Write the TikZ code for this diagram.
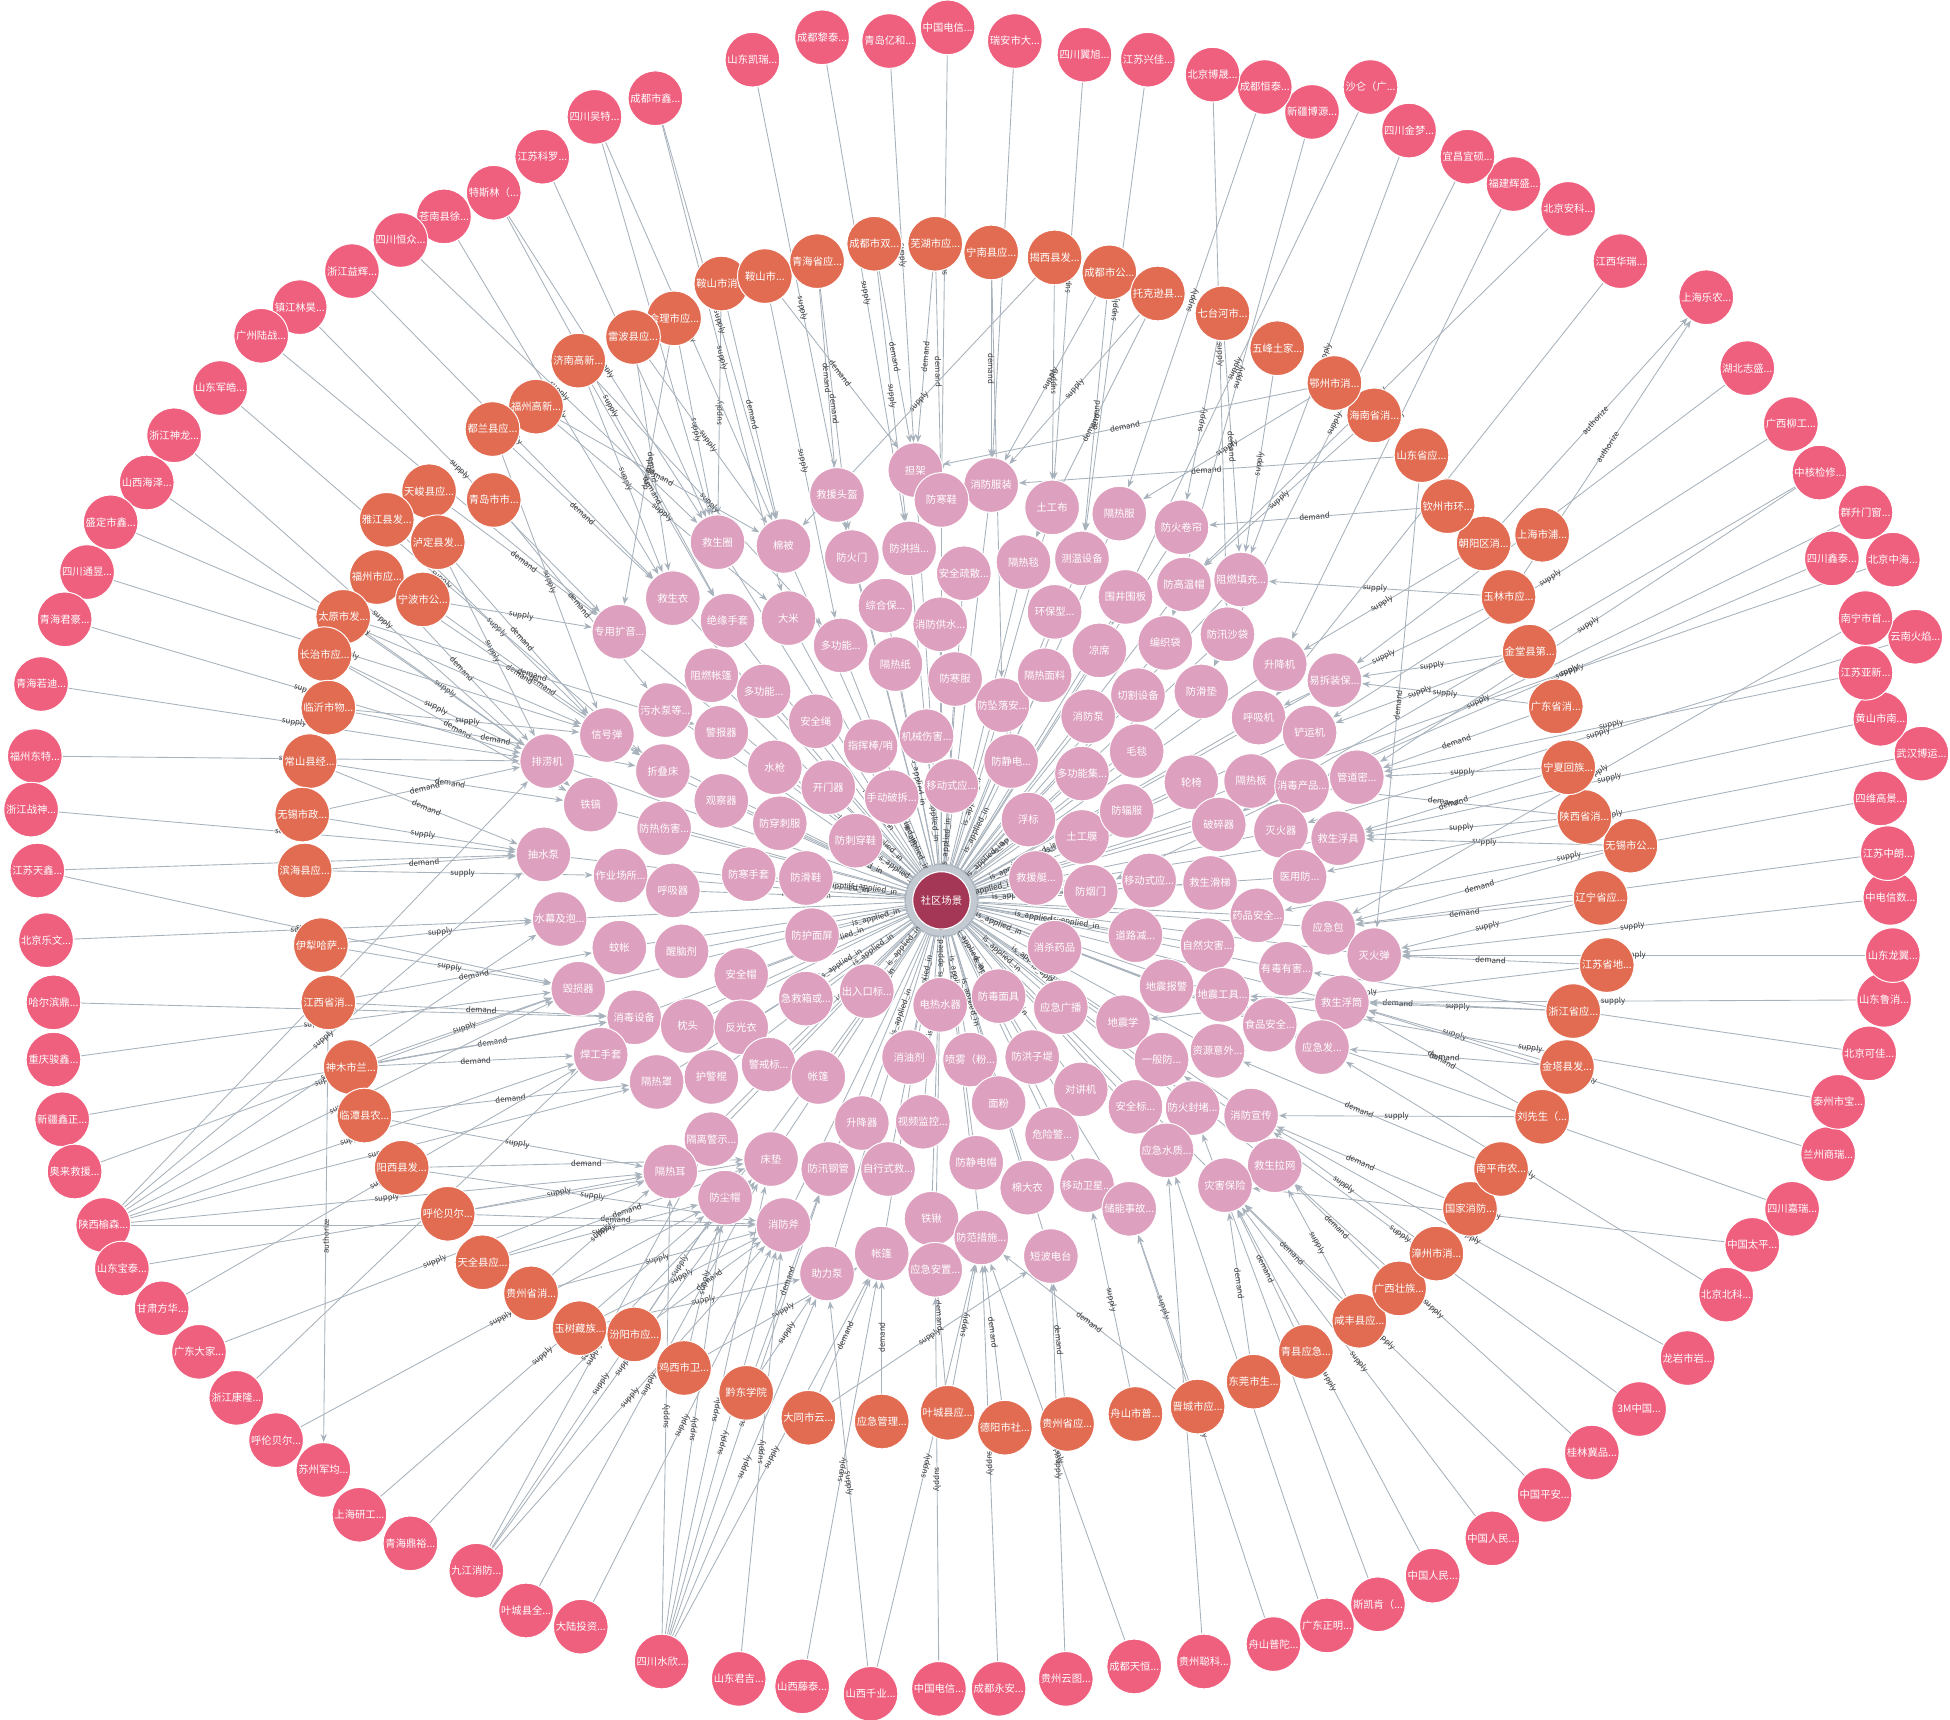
\documentclass[tikz,border=0pt]{standalone}
\usepackage{fontspec}
\setmainfont{Noto Sans CJK SC}
\usetikzlibrary{arrows.meta,backgrounds}
\newcommand\ellp{...}
\definecolor{outerc}{RGB}{239,95,126}
\definecolor{orgc}{RGB}{225,108,82}
\definecolor{prodc}{RGB}{221,160,190}
\definecolor{centc}{RGB}{164,54,86}
\definecolor{edgec}{RGB}{168,178,188}
\definecolor{lblc}{RGB}{55,55,55}
\begin{document}
\begin{tikzpicture}[x=1pt,y=-1pt,
 base/.style={circle,minimum size=44pt,inner sep=0pt,draw=white,line width=0.8pt,text=white,font=\fontsize{8.3}{8.3}\selectfont},
 outern/.style={base,fill=outerc},
 orgn/.style={base,fill=orgc},
 prodn/.style={base,fill=prodc},
 centn/.style={base,fill=centc,minimum size=46pt},
 edge/.style={draw=edgec,line width=0.7pt,-{Stealth[length=6.5pt,width=5pt]}},
 lbl/.style={font=\fontsize{6.3}{6.3}\selectfont,text=lblc,sloped,inner sep=0.4pt,midway}
]
\useasboundingbox (0,0) rectangle (1568,1383);

% centre
\draw[edgec!70,line width=5pt] (757,724) circle (26);
\node[centn] (c) at (757,724) {社区场景};

% products
\foreach \id/\x/\y/\t in {
p1/736/378/担架, p2/797/390/消防服装, p3/673/398/救援头盔, p4/757/402/防寒鞋, p5/846/408/土工布,
p6/900/413/隔热服, p7/950/424/防火卷帘, p8/577/436/救生圈, p9/630/439/棉被, p10/685/448/防火门,
p11/731/441/防洪挡\ellp, p12/775/461/安全疏散\ellp, p13/823/452/隔热毯, p14/870/449/测温设备, p15/952/470/防高温帽,
p16/998/466/阻燃填充\ellp, p17/541/481/救生衣, p18/585/499/绝缘手套, p19/634/497/大米, p20/712/487/综合保\ellp,
p21/756/502/消防供水\ellp, p22/848/492/环保型\ellp, p23/905/480/围井围板, p24/937/517/编织袋, p25/987/510/防汛沙袋,
p26/498/508/专用扩音\ellp, p27/676/519/多功能\ellp, p28/720/534/隔热纸, p29/884/523/凉席, p30/1029/534/升降机,
p31/1073/547/易拆装保\ellp, p32/572/543/阻燃帐篷, p33/614/556/多功能\ellp, p34/768/546/防寒服, p35/806/567/防坠落安\ellp,
p36/840/543/隔热面料, p37/915/559/切割设备, p38/966/556/防滑垫, p39/535/571/污水泵等\ellp, p40/580/589/警报器,
p41/656/580/安全绳, p42/745/592/机械伤害\ellp, p43/875/576/消防泵, p44/1012/577/呼吸机, p45/1053/589/铲运机,
p46/488/591/信号弹, p47/700/600/{指挥棒/哨}, p48/440/612/排涝机, p49/533/620/折叠床, p50/623/617/水枪,
p51/813/612/防静电\ellp, p52/914/604/毛毯, p53/870/622/多功能集\ellp, p54/958/629/轮椅, p55/1006/628/隔热板,
p56/1047/632/消毒产品\ellp, p57/1091/625/管道密\ellp, p58/666/633/开门器, p59/765/632/移动式应\ellp, p60/717/641/手动破拆\ellp,
p61/475/647/铁镐, p62/580/644/观察器, p63/627/662/防穿刺服, p64/534/666/防热伤害\ellp, p65/688/676/防刺穿鞋,
p66/827/659/浮标, p67/870/673/土工膜, p68/906/652/防辐服, p69/980/663/破碎器, p70/1030/668/灭火器,
p71/1076/674/救生浮具, p72/437/687/抽水泵, p73/499/704/作业场所\ellp, p74/602/703/防寒手套, p75/648/706/防滑鞋,
p76/541/716/呼吸器, p77/833/706/救援艇\ellp, p78/877/717/防烟门, p79/924/708/移动式应\ellp, p80/973/710/救生滑梯,
p81/1045/705/医用防\ellp, p82/450/739/水幕及泡\ellp, p83/498/762/蚊帐, p84/548/765/醒脑剂, p85/653/752/防护面屏,
p86/848/762/消杀药品, p87/913/752/道路减\ellp, p88/971/760/自然灾害\ellp, p89/1011/736/药品安全\ellp, p90/1068/746/应急包,
p91/1105/768/灭火弹, p92/465/795/毁损器, p93/596/784/安全帽, p94/648/803/急救箱或\ellp, p95/697/797/出入口标\ellp,
p96/756/808/电热水器, p97/803/801/防毒面具, p98/853/810/应急广播, p99/938/793/地震报警, p100/1034/779/有毒有害\ellp,
p101/983/800/地震工具\ellp, p102/510/818/消毒设备, p103/553/825/枕头, p104/596/826/反光衣, p105/903/822/地震学,
p106/1021/824/食品安全\ellp, p107/1079/806/救生浮筒, p108/483/848/焊工手套, p109/618/856/警戒标\ellp, p110/658/866/帐篷,
p111/572/866/护警棍, p112/528/870/隔热罩, p113/731/850/消油剂, p114/780/852/喷雾（粉\ellp, p115/830/850/防洪子堤,
p116/934/852/一般防\ellp, p117/979/845/资源意外\ellp, p118/1063/842/应急发\ellp, p119/869/876/对讲机, p120/803/887/面粉,
p121/913/890/安全标\ellp, p122/959/891/防火封堵\ellp, p123/1006/897/消防宣传, p124/693/903/升降器, p125/742/902/视频监控\ellp,
p126/846/912/危险警\ellp, p127/572/916/隔离警示\ellp, p128/938/925/应急水质\ellp, p129/620/932/床垫, p130/1025/937/救生拉网,
p131/666/940/防汛钢管, p132/714/940/自行式救\ellp, p133/785/935/防静电帽, p134/539/942/隔热耳, p135/985/953/灾害保险,
p136/826/955/棉大衣, p137/874/953/移动卫星\ellp, p138/583/963/防尘帽, p139/908/972/储能事故\ellp, p140/630/985/消防斧,
p141/749/980/铁锹, p142/789/995/防范措施\ellp, p143/845/1010/短波电台, p144/709/1008/帐篷, p145/752/1021/应急安置\ellp,
p146/665/1024/助力泵}
 \node[prodn] (\id) at (\x,\y) {\t};

% organisations
\foreach \id/\x/\y/\t in {
o1/580/228/鞍山市消\ellp, o2/615/222/鞍山市\ellp, o3/657/210/青海省应\ellp, o4/703/196/成都市双\ellp, o5/752/196/芜湖市应\ellp,
o6/797/203/宁南县应\ellp, o7/848/207/揭西县发\ellp, o8/892/219/成都市公\ellp, o9/931/236/托克逊县\ellp, o10/983/252/七台河市\ellp,
o11/1027/280/五峰土家\ellp, o12/542/256/会理市应\ellp, o13/509/271/雷波县应\ellp, o14/465/290/济南高新\ellp, o15/431/327/福州高新\ellp,
o16/396/345/都兰县应\ellp, o17/345/395/天峻县应\ellp, o18/397/402/青岛市市\ellp, o19/311/418/雅江县发\ellp, o20/352/436/泸定县发\ellp,
o21/303/464/福州市应\ellp, o22/340/482/宁波市公\ellp, o23/276/496/太原市发\ellp, o24/261/526/长治市应\ellp, o25/264/569/临沂市物\ellp,
o26/249/612/常山县经\ellp, o27/243/655/无锡市政\ellp, o28/245/700/滨海县应\ellp, o29/258/760/伊犁哈萨\ellp, o30/264/806/江西省消\ellp,
o31/282/858/神木市兰\ellp, o32/293/897/临潭县农\ellp, o33/323/939/阳西县发\ellp, o34/360/976/呼伦贝尔\ellp, o35/388/1015/天全县应\ellp,
o36/427/1040/贵州省消\ellp, o37/466/1068/玉树藏族\ellp, o38/510/1073/汾阳市应\ellp, o39/550/1100/鸡西市卫\ellp, o40/600/1120/黔东学院,
o41/650/1140/大同市云\ellp, o42/709/1143/应急管理\ellp, o43/762/1136/叶城县应\ellp, o44/808/1148/德阳市社\ellp, o45/858/1145/贵州省应\ellp,
o46/913/1137/舟山市普\ellp, o47/963/1131/晋城市应\ellp, o48/1008/1111/东莞市生\ellp, o49/1050/1087/青县应急\ellp, o50/1093/1062/咸丰县应\ellp,
o51/1125/1036/广西壮族\ellp, o52/1155/1008/漳州市消\ellp, o53/1182/972/国家消防\ellp, o54/1207/940/南平市农\ellp, o55/1240/898/刘先生（\ellp,
o56/1260/858/金塔县发\ellp, o57/1265/813/浙江省应\ellp, o58/1292/776/江苏省地\ellp, o59/1287/722/辽宁省应\ellp, o60/1311/680/无锡市公\ellp,
o61/1274/657/陕西省消\ellp, o62/1261/617/宁夏回族\ellp, o63/1251/568/广东省消\ellp, o64/1230/524/金堂县第\ellp, o65/1213/480/玉林市应\ellp,
o66/1240/430/上海市浦\ellp, o67/1193/437/朝阳区消\ellp, o68/1164/407/钦州市环\ellp, o69/1143/366/山东省应\ellp, o70/1105/334/海南省消\ellp,
o71/1073/308/鄂州市消\ellp}
 \node[orgn] (\id) at (\x,\y) {\t};

% outer companies
\foreach \id/\x/\y/\t in {
r1/605/48/山东凯瑞\ellp, r2/527/79/成都市鑫\ellp, r3/478/94/四川吴特\ellp, r4/436/126/江苏科罗\ellp, r5/397/155/特斯林（\ellp,
r6/357/174/苍南县徐\ellp, r7/322/193/四川恒众\ellp, r8/283/218/浙江益辉\ellp, r9/241/247/镇江林昊\ellp, r10/210/270/广州陆战\ellp,
r11/177/312/山东军皓\ellp, r12/140/350/浙江神龙\ellp, r13/118/388/山西海泽\ellp, r14/89/420/盛定市鑫\ellp, r15/70/460/四川通昱\ellp,
r16/52/498/青海君豪\ellp, r17/33/550/青海若迪\ellp, r18/28/608/福州东特\ellp, r19/25/651/浙江战神\ellp, r20/30/700/江苏天鑫\ellp,
r21/37/756/北京乐文\ellp, r22/43/806/哈尔滨鼎\ellp, r23/43/852/重庆骏鑫\ellp, r24/50/900/新疆鑫正\ellp, r25/60/942/奥来救援\ellp,
r26/83/985/陕西榆森\ellp, r27/98/1020/山东宝泰\ellp, r28/130/1052/甘肃方华\ellp, r29/160/1087/广东大家\ellp, r30/190/1124/浙江康隆\ellp,
r31/222/1158/呼伦贝尔\ellp, r32/260/1182/苏州军均\ellp, r33/289/1218/上海研工\ellp, r34/330/1241/青海鼎裕\ellp, r35/383/1263/九江消防\ellp,
r36/423/1295/叶城县全\ellp, r37/467/1308/大陆投资\ellp, r38/532/1336/四川水欣\ellp, r39/594/1350/山东君吉\ellp, r40/645/1356/山西藤泰\ellp,
r41/700/1362/山西千业\ellp, r42/755/1358/中国电信\ellp, r43/803/1358/成都永安\ellp, r44/857/1350/贵州云图\ellp, r45/912/1340/成都天恒\ellp,
r46/968/1336/贵州聪科\ellp, r47/1024/1322/舟山普陀\ellp, r48/1067/1307/广东正明\ellp, r49/1108/1290/斯凯肯（\ellp, r50/1152/1267/中国人民\ellp,
r51/1200/1237/中国人民\ellp, r52/1242/1202/中国平安\ellp, r53/1280/1168/桂林冀品\ellp, r54/1318/1133/3M中国\ellp, r55/1357/1092/龙岩市岩\ellp,
r56/1388/1041/北京北科\ellp, r57/1409/1001/中国太平\ellp, r58/1441/972/四川嘉瑞\ellp, r59/1470/928/兰州商瑞\ellp, r60/1478/886/泰州市宝\ellp,
r61/1503/847/北京可佳\ellp, r62/1515/804/山东鲁消\ellp, r63/1522/768/山东龙翼\ellp, r64/1520/722/中电信数\ellp, r65/1518/686/江苏中朗\ellp,
r66/1512/642/四维高景\ellp, r67/1545/606/武汉博运\ellp, r68/1512/578/黄山市南\ellp, r69/1500/541/江苏亚新\ellp, r70/1540/512/云南火焰\ellp,
r71/1500/497/南宁市首\ellp, r72/1522/450/北京中海\ellp, r73/1473/449/四川鑫泰\ellp, r74/1500/412/群升门窗\ellp, r75/1463/380/中核检修\ellp,
r76/1440/341/广西柳工\ellp, r77/1405/296/湖北志盛\ellp, r78/1372/239/上海乐农\ellp, r79/1303/210/江西华瑞\ellp, r80/1261/168/北京安科\ellp,
r81/1217/148/福建辉盛\ellp, r82/1180/126/宜昌宜硕\ellp, r83/1133/105/四川金梦\ellp, r84/1102/70/沙仑（广\ellp, r85/1055/90/新疆博源\ellp,
r86/1017/70/成都恒泰\ellp, r87/975/60/北京博晟\ellp, r88/923/48/江苏兴佳\ellp, r89/872/44/四川翼旭\ellp, r90/816/33/瑞安市大\ellp,
r91/762/22/中国电信\ellp, r92/715/33/青岛亿和\ellp, r93/661/30/成都黎泰\ellp}
 \node[outern] (\id) at (\x,\y) {\t};

\begin{pgfonlayer}{background}
% products -> scene
\foreach \a in {1,...,146} \draw[edge] (p\a) -- (c);
\foreach \a in {47,59,60,58,42,51,53,66,67,65,63,75,74,77,78,79,85,86,87,94,95,96,97,98,99,105,113,114,115,116,110,109,93,104,68,54,50,41,76,84,88,80,119,120,124,125,35,34,28}
 \path (p\a) -- (c) node[lbl]{is\_applied\_in};

% organisations -> products
\foreach \a/\b/\l in {
o1/p9/demand, o1/p8/supply, o2/p27/supply, o2/p1/demand, o3/p3/demand, o3/p10/demand,
o4/p1/demand, o4/p11/supply, o5/p1/demand, o5/p4/demand, o6/p2/demand, o6/p35/supply,
o7/p9/supply, o7/p5/supply, o8/p14/demand, o8/p2/supply, o9/p2/supply, o9/p13/demand,
o10/p7/supply, o10/p16/demand, o11/p16/supply, o12/p8/supply, o12/p26/demand,
o13/p17/demand, o13/p9/supply, o14/p27/supply, o14/p18/demand, o14/p17/supply,
o15/p9/demand, o15/p19/supply, o16/p17/demand, o16/p46/supply, o17/p26/demand,
o18/p39/demand, o19/p46/supply, o20/p46/demand, o20/p48/supply, o21/p49/demand, o21/p48/demand,
o22/p26/supply, o22/p49/demand, o23/p48/supply, o23/p40/demand, o24/p48/supply, o24/p61/demand,
o25/p46/supply, o25/p49/demand, o26/p72/demand, o26/p61/demand, o27/p72/supply, o27/p48/demand,
o28/p72/demand, o28/p73/supply, o29/p82/supply, o29/p92/supply, o30/p102/demand, o30/p83/demand,
o31/p92/supply, o31/p102/demand, o31/p108/demand, o32/p112/demand, o32/p134/supply,
o33/p129/demand, o33/p140/supply, o34/p134/supply, o34/p140/demand, o35/p138/supply, o35/p129/demand,
o36/p140/supply, o36/p134/supply, o37/p140/supply, o37/p146/supply, o38/p138/supply, o38/p140/demand,
o39/p144/supply, o39/p138/supply, o40/p146/supply, o40/p131/demand, o41/p143/supply, o41/p144/demand,
o42/p144/demand, o43/p142/supply, o43/p141/demand, o44/p142/demand, o45/p143/demand, o46/p137/supply,
o47/p142/demand, o47/p139/supply, o48/p135/demand, o49/p135/demand, o50/p135/demand, o50/p130/supply,
o51/p130/demand, o52/p123/supply, o53/p123/demand, o54/p117/demand, o55/p107/demand, o55/p123/supply,
o56/p107/supply, o56/p118/demand, o57/p107/supply, o57/p101/demand, o58/p91/demand, o58/p105/supply,
o59/p90/demand, o59/p91/supply, o60/p71/supply, o60/p90/demand, o61/p56/demand, o61/p71/supply,
o62/p57/supply, o62/p71/demand, o63/p57/demand, o63/p31/supply, o64/p31/supply, o64/p45/supply,
o65/p44/supply, o65/p16/supply, o67/p30/supply, o68/p7/demand, o69/p2/demand, o69/p91/demand,
o70/p15/supply, o71/p1/demand, o71/p6/supply,
o30/r32/authorize, o67/r78/authorize, o65/r78/authorize}
 \draw[edge] (\a) -- (\b) node[lbl]{\l};

% companies -> products
\foreach \a/\b in {
r1/p10, r2/p9, r2/p19, r3/p9, r3/p8, r4/p8, r5/p18, r5/p8, r6/p17, r7/p8, r8/p17, r9/p26, r10/p26,
r11/p49, r12/p61, r13/p48, r14/p46, r15/p46, r16/p48, r17/p48, r18/p48, r19/p72, r20/p72, r20/p92,
r21/p82, r22/p102, r23/p92, r24/p102, r25/p92, r26/p134, r26/p140, r26/p92, r26/p82, r26/p108,
r26/p48, r26/p72, r26/p112, r27/p129, r28/p108, r29/p134, r30/p102, r31/p138, r33/p138, r34/p129,
r35/p138, r35/p140, r35/p129, r35/p127, r36/p129, r37/p140, r38/p140, r38/p146, r38/p138, r38/p129,
r38/p134, r38/p131, r38/p144, r39/p140, r40/p144, r41/p146, r41/p142, r42/p145, r43/p142, r44/p143,
r45/p142, r46/p128, r47/p139, r48/p128, r49/p122, r50/p135, r51/p135, r52/p135, r53/p130, r54/p116,
r55/p123, r56/p118, r57/p135, r58/p106, r59/p107, r60/p101, r61/p100, r62/p107, r63/p91, r64/p91,
r65/p90, r66/p89, r67/p81, r68/p71, r69/p57, r70/p70, r71/p90, r72/p55, r73/p56, r74/p78, r75/p57,
r75/p69, r76/p45, r77/p31, r79/p44, r80/p15, r81/p30, r82/p38, r83/p16, r84/p29, r85/p24, r86/p6,
r87/p25, r88/p14, r89/p5, r90/p2, r91/p4, r92/p1, r93/p11}
 \draw[edge] (\a) -- (\b) node[lbl]{supply};
\end{pgfonlayer}
\end{tikzpicture}
\end{document}
